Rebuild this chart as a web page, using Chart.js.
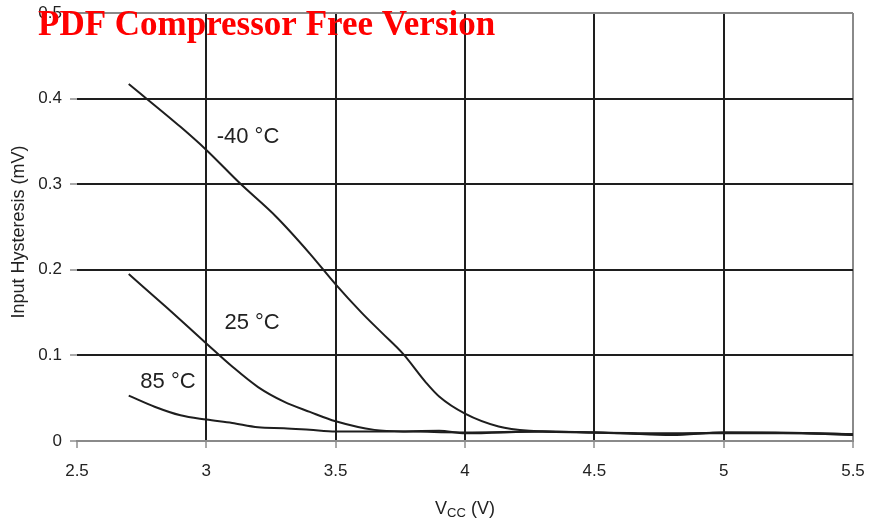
<!DOCTYPE html>
<html>
<head>
<meta charset="utf-8">
<script src="https://cdn.jsdelivr.net/npm/chart.js@4"></script>
<style>
  html, body { margin: 0; padding: 0; background: #fff; }
  #wrap { width: 869px; height: 522px; }
</style>
</head>
<body>
<div id="wrap"><canvas id="chart" width="869" height="522"></canvas></div>
<script>
// axis ticks
const xTicks = [2.5, 3, 3.5, 4, 4.5, 5, 5.5];
const yTicks = [0, 0.1, 0.2, 0.3, 0.4, 0.5];

// -40 °C curve
const vccM40 = [2.7, 2.9, 3.0, 3.13, 3.27, 3.4, 3.5, 3.6, 3.68, 3.76, 3.85, 3.9, 4.0, 4.13, 4.25, 4.5, 4.8, 5.0, 5.3, 5.5];
const hysM40 = [0.417, 0.367, 0.340, 0.301, 0.262, 0.219, 0.183, 0.150, 0.126, 0.102, 0.068, 0.052, 0.032, 0.017, 0.012, 0.010, 0.009, 0.009, 0.009, 0.008];

// 25 °C curve
const vcc25 = [2.7, 2.85, 3.0, 3.1, 3.2, 3.3, 3.4, 3.5, 3.65, 3.8, 4.0, 4.3, 4.5, 4.8, 5.0, 5.2, 5.5];
const hys25 = [0.195, 0.155, 0.114, 0.087, 0.063, 0.046, 0.034, 0.023, 0.013, 0.011, 0.010, 0.011, 0.010, 0.008, 0.010, 0.010, 0.008];

// 85 °C curve
const vcc85 = [2.7, 2.8, 2.9, 3.0, 3.1, 3.2, 3.3, 3.4, 3.5, 3.7, 3.9, 4.0, 4.3, 4.6, 4.8, 5.0, 5.3, 5.5];
const hys85 = [0.053, 0.040, 0.030, 0.025, 0.021, 0.016, 0.015, 0.013, 0.011, 0.011, 0.012, 0.009, 0.011, 0.009, 0.007, 0.010, 0.009, 0.007];

// curve labels, in data coordinates (left edge, middle)
const curveLabels = ["-40 °C", "25 °C", "85 °C"];
const labelVcc = [3.04, 3.07, 2.745];
const labelHys = [0.355, 0.138, 0.069];

const FONT = "'Liberation Sans', Arial, Helvetica, sans-serif";
const INK = "#1e1e1e";
const EDGE = "#8a8a8a";

function pts(xs, ys) {
  return xs.map((x, i) => ({ x: x, y: ys[i] }));
}

function curve(xs, ys) {
  return {
    data: pts(xs, ys),
    borderColor: INK,
    borderWidth: 2,
    pointRadius: 0,
    fill: false,
    cubicInterpolationMode: "monotone"
  };
}

// labels, axis titles and watermark
const extras = {
  id: "extras",
  afterDatasetsDraw(chart) {
    const ctx = chart.ctx;
    const xs = chart.scales.x;
    const ys = chart.scales.y;
    ctx.save();
    ctx.fillStyle = "#222";
    ctx.font = "22px " + FONT;
    ctx.textAlign = "left";
    ctx.textBaseline = "middle";
    curveLabels.forEach((t, i) => {
      ctx.fillText(t, xs.getPixelForValue(labelVcc[i]), ys.getPixelForValue(labelHys[i]));
    });

    // y title
    ctx.save();
    ctx.translate(19, (chart.chartArea.top + chart.chartArea.bottom) / 2 + 5);
    ctx.rotate(-Math.PI / 2);
    ctx.textAlign = "center";
    ctx.font = "18px " + FONT;
    ctx.fillText("Input Hysteresis (mV)", 0, 0);
    ctx.restore();

    // x title with subscript
    const cx = (chart.chartArea.left + chart.chartArea.right) / 2;
    const by = 514;
    ctx.textBaseline = "alphabetic";
    ctx.font = "18px " + FONT;
    const wV = ctx.measureText("V").width;
    const wRest = ctx.measureText(" (V)").width;
    ctx.font = "13px " + FONT;
    const wCC = ctx.measureText("CC").width;
    let x0 = cx - (wV + wCC + wRest) / 2;
    ctx.font = "18px " + FONT;
    ctx.fillText("V", x0, by);
    ctx.font = "13px " + FONT;
    ctx.fillText("CC", x0 + wV, by + 3);
    ctx.font = "18px " + FONT;
    ctx.fillText(" (V)", x0 + wV + wCC, by);
    ctx.restore();
  },
  afterDraw(chart) {
    const ctx = chart.ctx;
    ctx.save();
    ctx.fillStyle = "#ff0000";
    ctx.font = "bold 35px 'Liberation Serif', 'Times New Roman', serif";
    ctx.textAlign = "left";
    ctx.textBaseline = "alphabetic";
    ctx.fillText("PDF Compressor Free Version", 38, 35);
    ctx.restore();
  }
};

new Chart(document.getElementById("chart"), {
  type: "line",
  data: {
    datasets: [curve(vccM40, hysM40), curve(vcc25, hys25), curve(vcc85, hys85)]
  },
  options: {
    responsive: false,
    animation: false,
    layout: { padding: { top: 13, right: 16, left: 0, bottom: 0 } },
    plugins: { legend: { display: false }, tooltip: { enabled: false } },
    scales: {
      x: {
        type: "linear",
        min: xTicks[0],
        max: xTicks[xTicks.length - 1],
        afterBuildTicks: s => { s.ticks = xTicks.map(v => ({ value: v })); },
        afterFit: s => { s.height = 81; s.paddingLeft = 0; s.paddingRight = 0; },
        border: { display: true, color: EDGE, width: 2 },
        grid: {
          lineWidth: 2,
          tickLength: 7,
          tickWidth: 1,
          tickColor: "#555",
          color: c => {
            const v = c.tick ? c.tick.value : null;
            if (v === xTicks[0]) return "rgba(0,0,0,0)";
            if (v === xTicks[xTicks.length - 1]) return EDGE;
            return INK;
          }
        },
        ticks: {
          padding: 13,
          color: "#222",
          font: { family: FONT, size: 17 },
          callback: v => String(v)
        }
      },
      y: {
        min: yTicks[0],
        max: yTicks[yTicks.length - 1],
        afterBuildTicks: s => { s.ticks = yTicks.map(v => ({ value: v })); },
        afterFit: s => { s.width = 77; s.paddingTop = 0; s.paddingBottom = 0; },
        border: { display: false },
        grid: {
          lineWidth: 2,
          tickLength: 7,
          tickWidth: 1,
          tickColor: "#555",
          color: c => {
            const v = c.tick ? c.tick.value : null;
            if (v === yTicks[0] || v === yTicks[yTicks.length - 1]) return EDGE;
            return INK;
          }
        },
        ticks: {
          padding: 8,
          color: "#222",
          font: { family: FONT, size: 17 },
          callback: v => String(v)
        }
      }
    }
  },
  plugins: [extras]
});
</script>
</body>
</html>
